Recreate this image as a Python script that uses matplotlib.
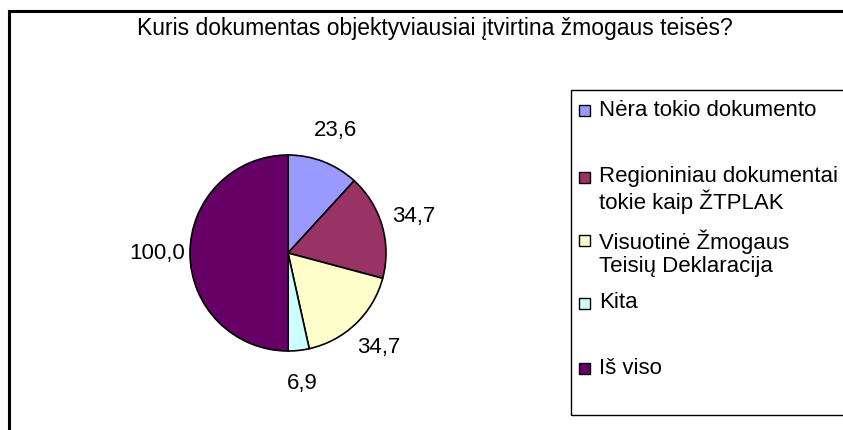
import numpy as np
import matplotlib
matplotlib.use("Agg")
import matplotlib.pyplot as plt
from matplotlib.patches import Rectangle

plt.rcParams['font.family'] = ['Liberation Sans', 'DejaVu Sans']

title = "Kuris dokumentas objektyviausiai įtvirtina žmogaus teisės?"
categories = ["Nėra tokio dokumento",
              "Regioniniau dokumentai\ntokie kaip ŽTPLAK",
              "Visuotinė Žmogaus\nTeisių Deklaracija",
              "Kita",
              "Iš viso"]
values = [23.6, 34.7, 34.7, 6.9, 100.0]
colors = ["#9999FF", "#993366", "#FFFFCC", "#CCFFFF", "#660066"]

W, H = 843, 430
fig = plt.figure(figsize=(W / 100, H / 100), dpi=100)

# outer chart frame (runs off the right and bottom edges)
fig.patches.append(Rectangle((9 / W, -0.1), 1.2, (H - 11) / H + 0.1,
                             transform=fig.transFigure, fill=False,
                             edgecolor="black", linewidth=2.2))

fig.text(435 / W, 1 - 29 / H, title, ha="center", va="center", fontsize=16.5)

# pie: centre (288, 253) px, radius 98 px
cx, cy, r = 288, 253, 98
size = 2.5 * r
ax = fig.add_axes([(cx - size / 2) / W, (H - cy - size / 2) / H, size / W, size / H])
labels = [f"{v:.1f}".replace(".", ",") for v in values]
wedges, texts = ax.pie(values, colors=colors, startangle=90, counterclock=False,
                       labels=labels, labeldistance=1.34,
                       wedgeprops=dict(edgecolor="black", linewidth=1.2),
                       textprops=dict(fontsize=16))
for t in texts:
    t.set_ha("center")
    t.set_va("center")
ax.set_xlim(-1.25, 1.25)
ax.set_ylim(-1.25, 1.25)

# legend box
lx, ly_top, ly_bot = 571, 90, 415
fig.patches.append(Rectangle((lx / W, (H - ly_bot) / H), 1.0, (ly_bot - ly_top) / H,
                             transform=fig.transFigure, fill=False,
                             edgecolor="black", linewidth=1.0))
entry_y = [110, 190, 253, 303, 368]
sq = 11
for lab, c, y in zip(categories, colors, entry_y):
    first_line_y = y - 13 * lab.count("\n")
    fig.patches.append(Rectangle((579 / W, (H - first_line_y - sq / 2) / H), sq / W, sq / H,
                                 transform=fig.transFigure, facecolor=c,
                                 edgecolor="black", linewidth=1.0))
    fig.text(599 / W, (H - y) / H, lab, ha="left", va="center", fontsize=16,
             linespacing=1.15)

fig.savefig("out.png", dpi=100)
